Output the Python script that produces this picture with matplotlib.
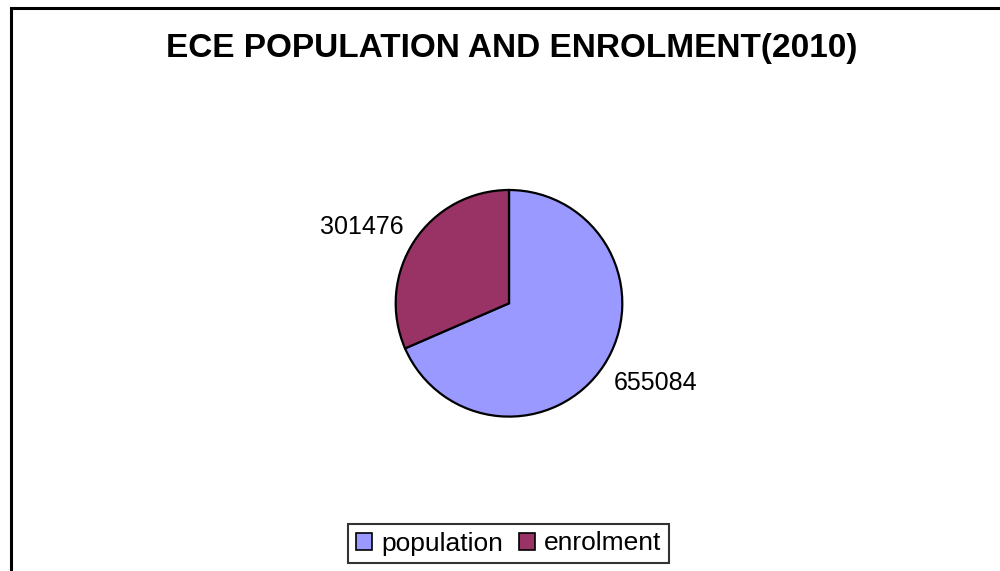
import matplotlib
matplotlib.use("Agg")
import matplotlib.pyplot as plt
from matplotlib.patches import Rectangle

categories = ["population", "enrolment"]
values = [655084, 301476]
colors = ["#9999FF", "#993366"]
title = "ECE POPULATION AND ENROLMENT(2010)"

plt.rcParams['font.family'] = ['Liberation Sans', 'DejaVu Sans']

W, H = 1000, 571
fig = plt.figure(figsize=(W / 100, H / 100), dpi=100)
ax = fig.add_axes([0, 0, 1, 1])

cx, cy, r = 509, 303.3, 113.3  # pixel centre/radius

wedges, texts = ax.pie(values, colors=colors, startangle=90, counterclock=False,
                       labels=[str(v) for v in values], labeldistance=1.35,
                       wedgeprops=dict(edgecolor='black', linewidth=1.6),
                       textprops=dict(fontsize=18, color='black'))
ax.set_aspect('auto')
ax.set_xlim(-cx / r, (W - cx) / r)
ax.set_ylim(-(H - cy) / r, cy / r)
ax.axis('off')

# position labels as in reference
label_px = [(656, 383), (362, 227)]
for t, (px, py) in zip(texts, label_px):
    t.set_position(((px - cx) / r, (cy - py) / r))
    t.set_ha('center')
    t.set_va('center')

fig.text(512 / W, 1 - 48 / H, title, ha='center', va='center',
         fontsize=24, fontweight='bold')

leg = fig.legend(wedges, categories, loc='center',
                 bbox_to_anchor=(508.5 / W, 1 - 543.5 / H),
                 ncol=2, fontsize=19, frameon=True, fancybox=False,
                 edgecolor='black', handlelength=0.6, handleheight=0.6,
                 handletextpad=0.35, columnspacing=0.6, borderpad=0.3,
                 borderaxespad=0)
leg.get_frame().set_linewidth(1.5)
for h in leg.legend_handles:
    h.set_linewidth(1.2)

fig.patches.append(Rectangle((11 / W, -0.1), 1.2, 1.1 - 7.5 / H,
                             transform=fig.transFigure, fill=False,
                             edgecolor='black', linewidth=2.2))

fig.savefig("out.png", dpi=100, facecolor='white')
